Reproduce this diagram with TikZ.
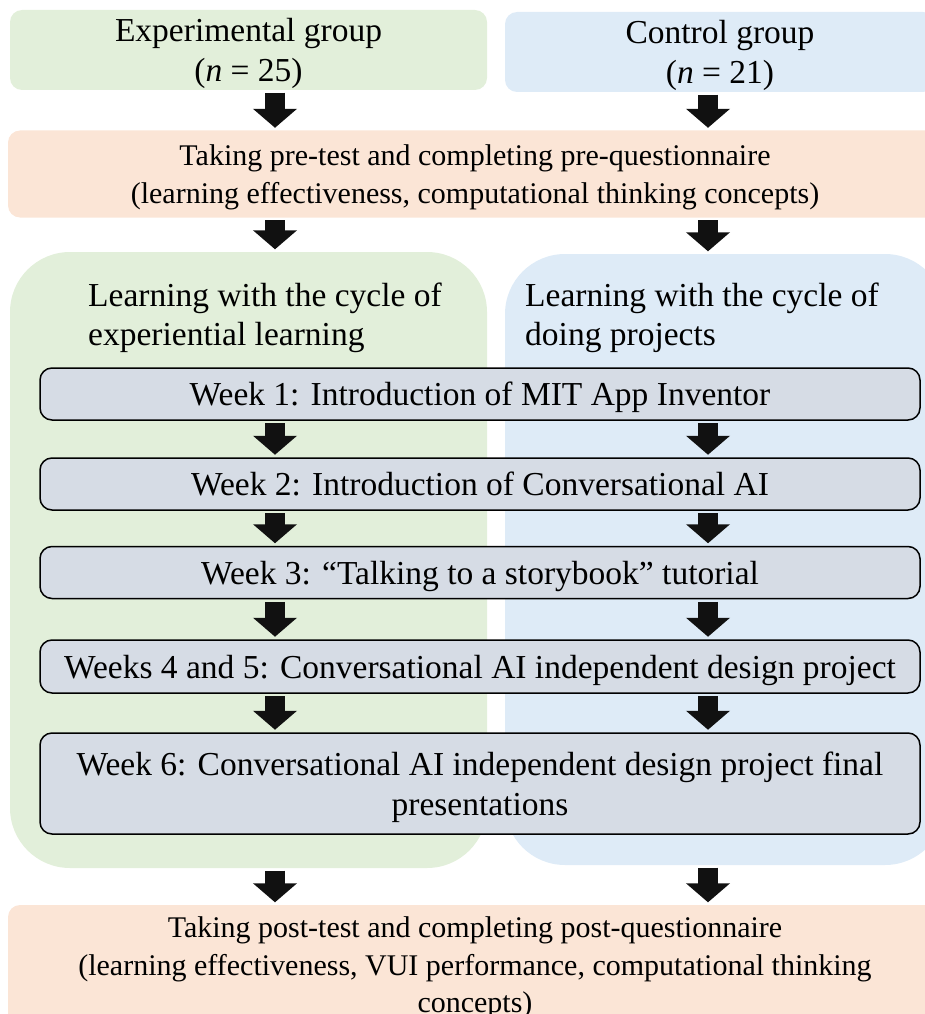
\documentclass[tikz,border=0pt]{standalone}
\usepackage{fontspec}
\setmainfont{Liberation Serif}
\usetikzlibrary{arrows.meta,positioning}
\definecolor{expgreen}{RGB}{226,239,218}
\definecolor{ctrlblue}{RGB}{222,235,247}
\definecolor{testpeach}{RGB}{251,229,214}
\definecolor{weekgray}{RGB}{214,220,229}
\definecolor{arrowblack}{RGB}{17,17,17}

\begin{document}
\begin{tikzpicture}[x=1pt,y=-1pt]
  \tikzset{
    box/.style={rounded corners=12pt, inner sep=0pt, align=center, text depth=0pt, font=\fontsize{33.5}{40}\selectfont},
    testbox/.style={box, fill=testpeach, minimum width=934pt, font=\fontsize{30}{37.5}\selectfont},
    weekbox/.style={box, draw=black, line width=1.5pt, fill=weekgray, minimum width=880pt},
    cyclebox/.style={rounded corners=60pt, inner sep=0pt},
    cycletext/.style={anchor=west, align=left, inner sep=0pt, font=\fontsize{33.5}{39.5}\selectfont},
    bigarrow/.style={draw=arrowblack, line width=20pt, -{Triangle[width=43pt,length=19pt]}, shorten <=2.5pt, shorten >=2.5pt}
  }
  \useasboundingbox (0,0) rectangle (925,1014);

  \coordinate (colL) at (275,0);
  \coordinate (colR) at (708,0);

  \node[box, fill=expgreen, minimum width=477pt, minimum height=80pt] (expgrp) at (248.5,50) {Experimental group\\(\textit{n} = 25)};
  \node[box, fill=ctrlblue, minimum width=430pt, minimum height=80pt] (ctrlgrp) at (720,52) {Control group\\(\textit{n} = 21)};

  \node[testbox, minimum height=87pt] (pretest) at (475,174) {Taking pre-test and completing pre-questionnaire\\(learning effectiveness, computational thinking concepts)};

  \node[cyclebox, fill=expgreen, minimum width=477pt, minimum height=616pt] (expcycle) at (248.5,560) {};
  \node[cyclebox, fill=ctrlblue, minimum width=440pt, minimum height=611pt] (ctrlcycle) at (725,559.5) {};
  \node[cycletext] (exptext) at (88,318) {Learning with the cycle of\\experiential learning};
  \node[cycletext] (ctrltext) at (525,318) {Learning with the cycle of\\doing projects};

  \node[weekbox, minimum height=52pt] (week1) at (480,394) {Week 1: Introduction of MIT App Inventor};
  \node[weekbox, minimum height=52pt] (week2) at (480,484) {Week 2: Introduction of Conversational AI};
  \node[weekbox, minimum height=52pt] (week3) at (480,572.5) {Week 3: “Talking to a storybook” tutorial};
  \node[weekbox, minimum height=53pt] (week4) at (480,666.5) {Weeks 4 and 5: Conversational AI independent design project};
  \node[weekbox, minimum height=101pt] (week6) at (480,783.5) {Week 6: Conversational AI independent design project final\\presentations};

  \node[testbox, minimum height=120pt] (posttest) at (475,965) {Taking post-test and completing post-questionnaire\\(learning effectiveness, VUI performance, computational thinking\\concepts)};

  \draw[bigarrow] (expgrp.south -| colL) -- (pretest.north -| colL);
  \draw[bigarrow] (ctrlgrp.south -| colR) -- (pretest.north -| colR);
  \draw[bigarrow] (pretest.south -| colL) -- (expcycle.north -| colL);
  \draw[bigarrow] (pretest.south -| colR) -- (ctrlcycle.north -| colR);
  \foreach \a/\b in {week1/week2, week2/week3, week3/week4, week4/week6} {
    \draw[bigarrow] (\a.south -| colL) -- (\b.north -| colL);
    \draw[bigarrow] (\a.south -| colR) -- (\b.north -| colR);
  }
  \draw[bigarrow] (expcycle.south -| colL) -- (posttest.north -| colL);
  \draw[bigarrow] (ctrlcycle.south -| colR) -- (posttest.north -| colR);
\end{tikzpicture}
\end{document}
